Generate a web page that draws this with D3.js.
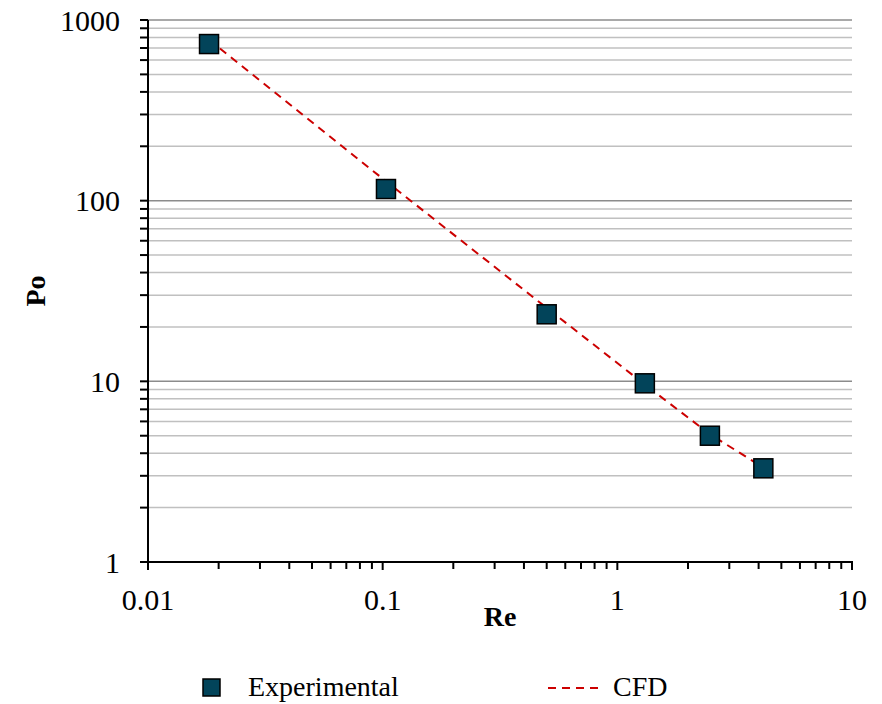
<!DOCTYPE html>
<html>
<head>
<meta charset="utf-8">
<script src="https://cdn.jsdelivr.net/npm/d3@7"></script>
<style>
  body { margin: 0; background: #fff; }
</style>
</head>
<body>
<div class="chart"></div>
<script>
// Data
const reExp = [0.0182, 0.1033, 0.50, 1.31, 2.48, 4.19];
const poExp = [736, 116, 23.5, 9.75, 5.0, 3.30];
const reCfd = [0.0182, 0.1033, 0.50, 1.31, 2.48, 4.19];
const poCfd = [778, 128, 25.5, 9.6, 5.1, 3.33];
const xTickLabels = ["0.01", "0.1", "1", "10"];
const yTickLabels = ["1", "10", "100", "1000"];

const W = 882, H = 704;
const margin = { top: 20, right: 30, bottom: 142, left: 148 };
const width = W - margin.left - margin.right;
const height = H - margin.top - margin.bottom;
const serif = "'Liberation Serif', 'Times New Roman', Times, serif";

const svg = d3.select(".chart")
    .append("svg")
    .attr("width", W)
    .attr("height", H)
    .attr("font-family", serif)
    .style("font-family", serif);

const g = svg.append("g")
    .attr("transform", `translate(${margin.left}, ${margin.top})`);

const x = d3.scaleLog().domain([0.01, 10]).range([0, width]);
const y = d3.scaleLog().domain([1, 1000]).range([height, 0]);

// minor / major values per decade
const minorY = [], majorY = yTickLabels.map(Number);
[1, 10, 100].forEach(d => { for (let k = 2; k <= 9; k++) minorY.push(d * k); });
const minorX = [], majorX = xTickLabels.map(Number);
[0.01, 0.1, 1].forEach(d => { for (let k = 2; k <= 9; k++) minorX.push(d * k); });

// gridlines
g.selectAll(".minor-grid")
    .data(minorY)
    .enter().append("line")
    .attr("x1", 0).attr("x2", width)
    .attr("y1", d => y(d)).attr("y2", d => y(d))
    .attr("stroke", "#c0c0c0")
    .attr("stroke-width", 1.5);

g.selectAll(".major-grid")
    .data(majorY.slice(1))
    .enter().append("line")
    .attr("x1", 0).attr("x2", width)
    .attr("y1", d => y(d)).attr("y2", d => y(d))
    .attr("stroke", "#8c8c8c")
    .attr("stroke-width", 1.5);

// y axis ticks
g.selectAll(".ytick")
    .data(minorY.concat(majorY))
    .enter().append("line")
    .attr("x1", -8).attr("x2", 0)
    .attr("y1", d => y(d)).attr("y2", d => y(d))
    .attr("stroke", "#000")
    .attr("stroke-width", 2);

// x axis ticks
g.selectAll(".xtick")
    .data(minorX.concat(majorX))
    .enter().append("line")
    .attr("x1", d => x(d)).attr("x2", d => x(d))
    .attr("y1", height)
    .attr("y2", d => height + (majorX.includes(d) ? 8 : 7))
    .attr("stroke", "#000")
    .attr("stroke-width", 2);

// axis lines
g.append("line")
    .attr("x1", 0).attr("x2", 0).attr("y1", 0).attr("y2", height)
    .attr("stroke", "#000").attr("stroke-width", 2);
g.append("line")
    .attr("x1", -1).attr("x2", width + 1).attr("y1", height).attr("y2", height)
    .attr("stroke", "#000").attr("stroke-width", 2);

// tick labels
g.selectAll(".ylabel")
    .data(yTickLabels)
    .enter().append("text")
    .attr("x", -28)
    .attr("y", d => y(+d))
    .attr("dy", "0.35em")
    .attr("text-anchor", "end")
    .style("font-size", "30px")
    .text(d => d);

g.selectAll(".xlabel")
    .data(xTickLabels)
    .enter().append("text")
    .attr("x", d => x(+d))
    .attr("y", height + 48)
    .attr("text-anchor", "middle")
    .style("font-size", "30px")
    .text(d => d);

// axis titles
g.append("text")
    .attr("x", width / 2)
    .attr("y", height + 64)
    .attr("text-anchor", "middle")
    .style("font-size", "28px")
    .style("font-weight", "bold")
    .text("Re");

g.append("text")
    .attr("transform", "rotate(-90)")
    .attr("x", -height / 2)
    .attr("y", -103)
    .attr("text-anchor", "middle")
    .style("font-size", "28px")
    .style("font-weight", "bold")
    .text("Po");

// CFD line
const line = d3.line()
    .x(d => x(d[0]))
    .y(d => y(d[1]));

g.append("path")
    .datum(reCfd.map((r, i) => [r, poCfd[i]]))
    .attr("fill", "none")
    .attr("stroke", "#cc0000")
    .attr("stroke-width", 2)
    .attr("stroke-dasharray", "8,6")
    .attr("d", line);

// experimental markers
const sz = 19;
g.selectAll(".pt")
    .data(reExp.map((r, i) => [r, poExp[i]]))
    .enter().append("rect")
    .attr("x", d => x(d[0]) - sz / 2)
    .attr("y", d => y(d[1]) - sz / 2)
    .attr("width", sz).attr("height", sz)
    .attr("fill", "#02445a")
    .attr("stroke", "#000")
    .attr("stroke-width", 1.5);

// legend
const leg = svg.append("g");
leg.append("rect")
    .attr("x", 203).attr("y", 679)
    .attr("width", 17).attr("height", 17)
    .attr("fill", "#02445a")
    .attr("stroke", "#000")
    .attr("stroke-width", 1.5);
leg.append("text")
    .attr("x", 248).attr("y", 696)
    .style("font-size", "28px")
    .text("Experimental");
leg.append("line")
    .attr("x1", 548).attr("x2", 604)
    .attr("y1", 688).attr("y2", 688)
    .attr("stroke", "#cc0000")
    .attr("stroke-width", 2)
    .attr("stroke-dasharray", "8,6");
leg.append("text")
    .attr("x", 613).attr("y", 696)
    .style("font-size", "28px")
    .text("CFD");
</script>
</body>
</html>
